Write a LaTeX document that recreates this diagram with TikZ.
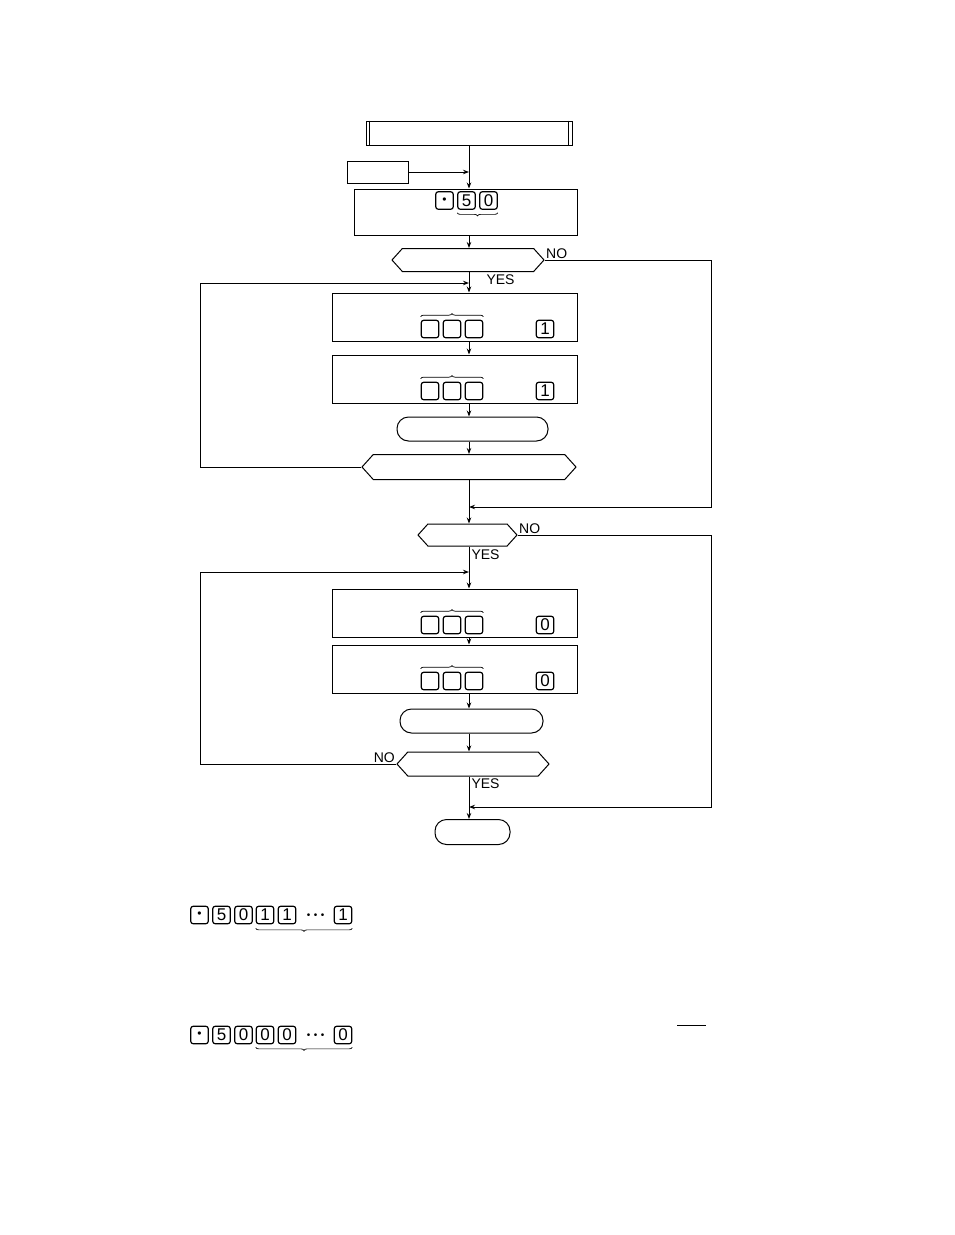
\documentclass[tikz,border=0pt]{standalone}
\usepackage{fontspec}
\setmainfont{Liberation Sans}
\usetikzlibrary{arrows.meta,positioning,shapes.misc,shapes.symbols,decorations.pathreplacing}

\begin{document}
\begin{tikzpicture}[
    x=1pt,y=-1pt,
    font=\fontsize{14}{16}\selectfont,
    line width=1pt,
    predef/.style={draw,minimum width=206pt,minimum height=24pt,inner sep=0pt},
    proc/.style={draw,minimum width=245pt,minimum height=48pt,inner sep=0pt},
    term/.style={draw,rounded corners=11.5pt,minimum height=24pt,inner sep=0pt},
    dec/.style={draw,signal,signal to=east and west,signal pointer angle=96,minimum height=23pt,inner sep=0pt},
    key/.style={draw,rounded corners=2.5pt,minimum width=17.5pt,minimum height=17.5pt,inner sep=0pt,line width=1.2pt,font=\fontsize{17}{17}\selectfont},
    dots/.style={inner sep=0pt,font=\fontsize{10}{10}\selectfont},
    lbl/.style={inner sep=1pt},
    arr/.style={-{Stealth[length=6pt,width=4.5pt]}},
    brc/.style={decorate,decoration={brace,amplitude=3pt},line width=0.7pt}
  ]
  \useasboundingbox (0,0) rectangle (954,1235);
  \coordinate (spine) at (469,0);

  \node[predef] (top) at (469,133) {};
  \draw ([xshift=4pt]top.north west) -- ([xshift=4pt]top.south west);
  \draw ([xshift=-4pt]top.north east) -- ([xshift=-4pt]top.south east);
  \node[draw,minimum width=61pt,minimum height=22pt,inner sep=0pt] (inbox) at (378,172) {};

  \node[proc,minimum width=223pt,minimum height=46pt] (setbox) at (465.5,212) {};
  \node[key] (sdot) at (444.5,200.5) {\fontsize{12}{12}\selectfont\textbullet};
  \node[key] (sfive) at (466.5,200.5) {5};
  \node[key] (szero) at (488.5,200.5) {0};
  \draw[brc] ([yshift=-3pt]szero.south east) -- ([yshift=-3pt]sfive.south west);

  \node[dec,minimum width=152pt] (chk1) at (468,260) {};
  \node[lbl,anchor=south west] (no1) at (chk1.east) {NO};
  \node[lbl,anchor=north west] (yes1) at (485,273) {YES};

  \node[proc] (shiftA) at (454.5,317) {};
  \node[proc] (shiftB) at (454.5,379) {};
  \node[term,minimum width=151pt] (cntA) at (472.5,429) {};
  \node[dec,minimum width=214pt,minimum height=25pt] (loopA) at (469,467) {};

  \node[dec,minimum width=99pt,minimum height=22pt] (chk2) at (467.5,535) {};
  \node[lbl,anchor=south west] (no2) at (chk2.east) {NO};
  \node[lbl,anchor=north west] (yes2) at (470,548) {YES};

  \node[proc] (shiftC) at (454.5,613) {};
  \node[proc] (shiftD) at (454.5,669) {};
  \node[term,minimum width=143pt] (cntB) at (471.5,721) {};
  \node[dec,minimum width=152pt,minimum height=24pt] (loopB) at (473,764) {};
  \node[lbl,anchor=south east] (no3) at (loopB.west) {NO};
  \node[lbl,anchor=north west] (yes3) at (470,777) {YES};
  \node[term,minimum width=75pt,minimum height=25pt] (stop) at (472.5,832) {};

  \foreach \b/\d in {shiftA/1,shiftB/1,shiftC/0,shiftD/0}{
    \node[key] (\b-k1) at ([yshift=-12pt]\b.center -| 430,0) {};
    \node[key] (\b-k2) at ([yshift=-12pt]\b.center -| 452,0) {};
    \node[key] (\b-k3) at ([yshift=-12pt]\b.center -| 474,0) {};
    \node[key] (\b-kv) at ([yshift=-12pt]\b.center -| 545,0) {\d};
    \draw[brc] ([yshift=3pt]\b-k1.north west) -- ([yshift=3pt]\b-k3.north east);
  }

  \coordinate (rA) at (200,283);
  \coordinate (nA) at (711,507);
  \coordinate (rB) at (200,572);
  \coordinate (nB) at (711,807);

  \draw[arr] (spine |- top.south) -- (spine |- setbox.north);
  \draw[arr] (inbox.east) -- (spine |- inbox.east);
  \draw[arr] (spine |- setbox.south) -- (spine |- chk1.north);
  \draw[arr] (spine |- chk1.south) -- (spine |- shiftA.north);
  \draw[arr] (spine |- shiftA.south) -- (spine |- shiftB.north);
  \draw[arr] (spine |- shiftB.south) -- (spine |- cntA.north);
  \draw[arr] (spine |- cntA.south) -- (spine |- loopA.north);
  \draw[arr] (spine |- loopA.south) -- (spine |- chk2.north);
  \draw[arr] (loopA.west) -| (rA) -- (spine |- rA);
  \draw[arr] (chk1.east) -| (nA) -- (spine |- nA);

  \draw[arr] (spine |- chk2.south) -- (spine |- shiftC.north);
  \draw[arr] (spine |- shiftC.south) -- (spine |- shiftD.north);
  \draw[arr] (spine |- shiftD.south) -- (spine |- cntB.north);
  \draw[arr] (spine |- cntB.south) -- (spine |- loopB.north);
  \draw[arr] (spine |- loopB.south) -- (spine |- stop.north);
  \draw[arr] (loopB.west) -| (rB) -- (spine |- rB);
  \draw[arr] (chk2.east) -| (nB) -- (spine |- nB);

  \node[key] (adot) at (199.5,915) {\fontsize{12}{12}\selectfont\textbullet};
  \node[key] (afive) at (221.5,915) {5};
  \node[key] (azero) at (243.5,915) {0};
  \node[key] (aone) at (265,915) {1};
  \node[key] (atwo) at (287,915) {1};
  \node[dots] (adots) at (315.5,916) {\textbullet\hspace{3.5pt}\textbullet\hspace{3.5pt}\textbullet};
  \node[key] (alast) at (343,915) {1};
  \draw[brc] ([yshift=-4pt]alast.south east) -- ([yshift=-4pt]aone.south west);

  \node[key] (bdot) at (199.5,1035) {\fontsize{12}{12}\selectfont\textbullet};
  \node[key] (bfive) at (221.5,1035) {5};
  \node[key] (bzero) at (243.5,1035) {0};
  \node[key] (bone) at (265,1035) {0};
  \node[key] (btwo) at (287,1035) {0};
  \node[dots] (bdots) at (315.5,1036) {\textbullet\hspace{3.5pt}\textbullet\hspace{3.5pt}\textbullet};
  \node[key] (blast) at (343,1035) {0};
  \draw[brc] ([yshift=-3pt]blast.south east) -- ([yshift=-3pt]bone.south west);

  \draw (677,1025) -- (706,1025);
\end{tikzpicture}
\end{document}
